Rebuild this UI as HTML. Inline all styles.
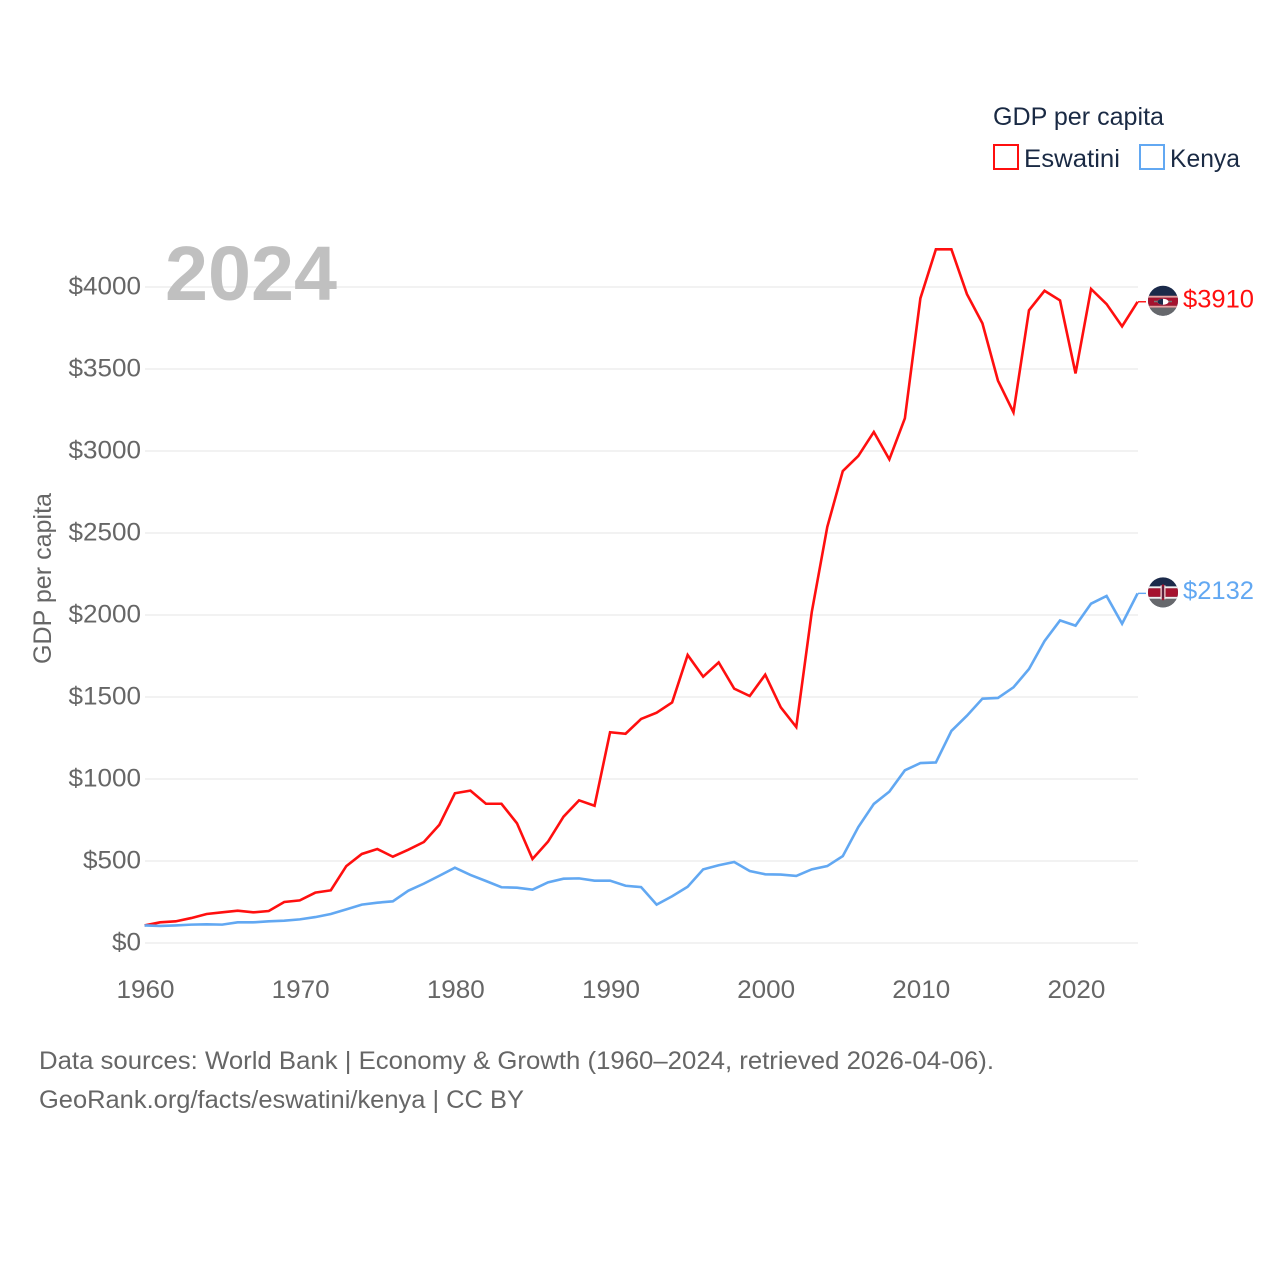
<!DOCTYPE html>
<html lang="en">
<head>
<meta charset="utf-8">
<title>GDP per capita: Eswatini and Kenya</title>
<style>
html,body{margin:0;padding:0;background:#fff;}
svg{display:block;}
text{font-family:"Liberation Sans",sans-serif;}
</style>
</head>
<body>
<svg id="chart" xmlns="http://www.w3.org/2000/svg" width="1280" height="1280" viewBox="0 0 1280 1280">
  <defs>
    <clipPath id="flag-clip"><circle cx="0" cy="0" r="15"/></clipPath>
  </defs>
  <rect x="0" y="0" width="1280" height="1280" fill="#ffffff"/>
  <g id="grid"></g>
  <g id="yticks"></g>
  <g id="xticks"></g>
  <text x="165" y="300" font-size="77" font-weight="700" fill="#c0c0c0" textLength="172" lengthAdjust="spacingAndGlyphs">2024</text>
  <text transform="translate(51,578.5) rotate(-90)" text-anchor="middle" font-size="25" fill="#666666" textLength="171" lengthAdjust="spacingAndGlyphs">GDP per capita</text>
  <g id="series"></g>

  <g id="flag-eswatini" clip-path="url(#flag-clip)">
    <rect x="-15" y="-16" width="30" height="32" fill="#1b2a4a"/>
    <rect x="-15" y="-5" width="30" height="2" fill="#e8a0a0"/>
    <rect x="-15" y="-3" width="30" height="8" fill="#a5122e"/>
    <rect x="-15" y="5" width="30" height="2" fill="#e8a0a0"/>
    <rect x="-15" y="7" width="30" height="9" fill="#66686c"/>
    <rect x="-9" y="0" width="18" height="1.5" fill="#777777"/>
    <ellipse cx="0" cy="1" rx="5.5" ry="3" fill="#ffffff"/>
    <path d="M-5.5 1A5.500 3 0 0 1 0-2V4A5.500 3 0 0 1-5.500 1Z" fill="#1b2a4a"/>
  </g>
  <g id="flag-kenya" clip-path="url(#flag-clip)">
    <rect x="-15" y="-16" width="30" height="32" fill="#1b2a4a"/>
    <rect x="-15" y="-6" width="30" height="2" fill="#f0f0f0"/>
    <rect x="-15" y="-4" width="30" height="8.500" fill="#a5122e"/>
    <rect x="-15" y="4.500" width="30" height="2" fill="#f0f0f0"/>
    <rect x="-15" y="6.500" width="30" height="9.500" fill="#66686c"/>
    <ellipse cx="0" cy="0" rx="3" ry="8" fill="#a5122e"/>
    <rect x="-2.500" y="-7" width="1.200" height="14" fill="#e8e8e8"/>
    <rect x="1.300" y="-7" width="1.200" height="14" fill="#e8e8e8"/>
    <rect x="-0.500" y="-6" width="1" height="12" fill="#1b2a4a"/>
  </g>
  <text id="end-eswatini" x="1183" font-size="25" fill="#ff0f0f" textLength="71" lengthAdjust="spacingAndGlyphs"></text>
  <text id="end-kenya" x="1183" font-size="25" fill="#62a8f2" textLength="71" lengthAdjust="spacingAndGlyphs"></text>

  <g>
    <text x="993" y="125" font-size="25" fill="#1a2a44" textLength="171" lengthAdjust="spacingAndGlyphs">GDP per capita</text>
    <rect x="994" y="145" width="24" height="24" fill="#ffffff" stroke="#ff0f0f" stroke-width="2"/>
    <text x="1024" y="167" font-size="25" fill="#1a2a44" textLength="96" lengthAdjust="spacingAndGlyphs">Eswatini</text>
    <rect x="1140" y="145" width="24" height="24" fill="#ffffff" stroke="#62a8f2" stroke-width="2"/>
    <text x="1170" y="167" font-size="25" fill="#1a2a44" textLength="70" lengthAdjust="spacingAndGlyphs">Kenya</text>
  </g>

  <text x="39" y="1069" font-size="25" fill="#666666" textLength="955" lengthAdjust="spacingAndGlyphs">Data sources: World Bank | Economy &amp; Growth (1960–2024, retrieved 2026-04-06).</text>
  <text x="39" y="1108" font-size="25" fill="#666666" textLength="485" lengthAdjust="spacingAndGlyphs">GeoRank.org/facts/eswatini/kenya | CC BY</text>
</svg>
<script>
const startYear = 1960;
const yTickValues = [0, 500, 1000, 1500, 2000, 2500, 3000, 3500, 4000];
const xTickValues = [1960, 1970, 1980, 1990, 2000, 2010, 2020];
const eswatiniValues = [107,126,132,152,177,187,197,187,195,250,260,307,321,469,543,573,526,569,616,721,913,929,849,849,730,512,618,770,870,837,1285,1276,1366,1404,1467,1756,1624,1711,1551,1506,1636,1437,1317,2018,2537,2878,2970,3116,2949,3199,3931,4230,4230,3957,3778,3429,3236,3858,3977,3918,3473,3988,3896,3760,3910];
const kenyaValues = [107,104,107,112,114,112,126,126,132,136,144,158,177,205,234,246,254,319,362,410,459,415,378,340,337,325,370,392,394,380,380,349,341,234,285,343,449,474,494,439,419,417,409,449,469,530,707,848,923,1053,1097,1101,1293,1386,1490,1494,1559,1671,1841,1967,1935,2069,2116,1947,2132];

const svgNS = 'http://www.w3.org/2000/svg';
const plotLeft = 145, plotRight = 1138, baseY = 943, pxPerDollar = 0.164, pxPerYear = (plotRight - plotLeft) / 64;
function xScale(year) { return plotLeft - 0.4 + (year - startYear) * pxPerYear; }
function yScale(value) { return baseY - value * pxPerDollar; }
function make(tag, attrs, parent) {
  const el = document.createElementNS(svgNS, tag);
  for (const k in attrs) el.setAttribute(k, attrs[k]);
  parent.appendChild(el);
  return el;
}

const gridGroup = document.getElementById('grid');
const yTickGroup = document.getElementById('yticks');
yTickValues.forEach(function (v) {
  const line = make('line', {x1: plotLeft, x2: plotRight, y1: yScale(v), y2: yScale(v), stroke: '#eeeeee', 'stroke-width': 1.6}, gridGroup);
  
  
  const label = '$' + v;
  const t = make('text', {x: 141, y: yScale(v) + 7.5, 'text-anchor': 'end', 'font-size': 25, fill: '#666666', textLength: label.length * 14.5, lengthAdjust: 'spacingAndGlyphs'}, yTickGroup);
  
  
  t.textContent = label;
});

const xTickGroup = document.getElementById('xticks');
xTickValues.forEach(function (yr) {
  const t = make('text', {x: xScale(yr) + 0.9, y: 998, 'text-anchor': 'middle', 'font-size': 25, fill: '#666666', textLength: 58, lengthAdjust: 'spacingAndGlyphs'}, xTickGroup);
  
  
  t.textContent = String(yr);
});

function drawSeries(values, color, flagId, labelId) {
  const group = document.getElementById('series');
  const pts = values.map(function (v, i) { return xScale(startYear + i).toFixed(2) + ',' + yScale(v).toFixed(2); });
  const lastY = yScale(values[values.length - 1]);
  const line = make('polyline', {points: pts.join(' '), fill: 'none', stroke: color, 'stroke-width': 2.6, 'stroke-linejoin': 'miter'}, group);
  
  
  const leader = make('line', {x1: plotRight, x2: 1146, y1: lastY, y2: lastY, stroke: color, 'stroke-width': 1.4}, group);
  
  
  document.getElementById(flagId).setAttribute('transform', 'translate(1163,' + (lastY - 1) + ')');
  const lbl = document.getElementById(labelId);
  lbl.setAttribute('y', lastY + 5.5);
  lbl.textContent = '$' + values[values.length - 1];
}
drawSeries(eswatiniValues, '#ff0f0f', 'flag-eswatini', 'end-eswatini');
drawSeries(kenyaValues, '#62a8f2', 'flag-kenya', 'end-kenya');
</script>
</body>
</html>
